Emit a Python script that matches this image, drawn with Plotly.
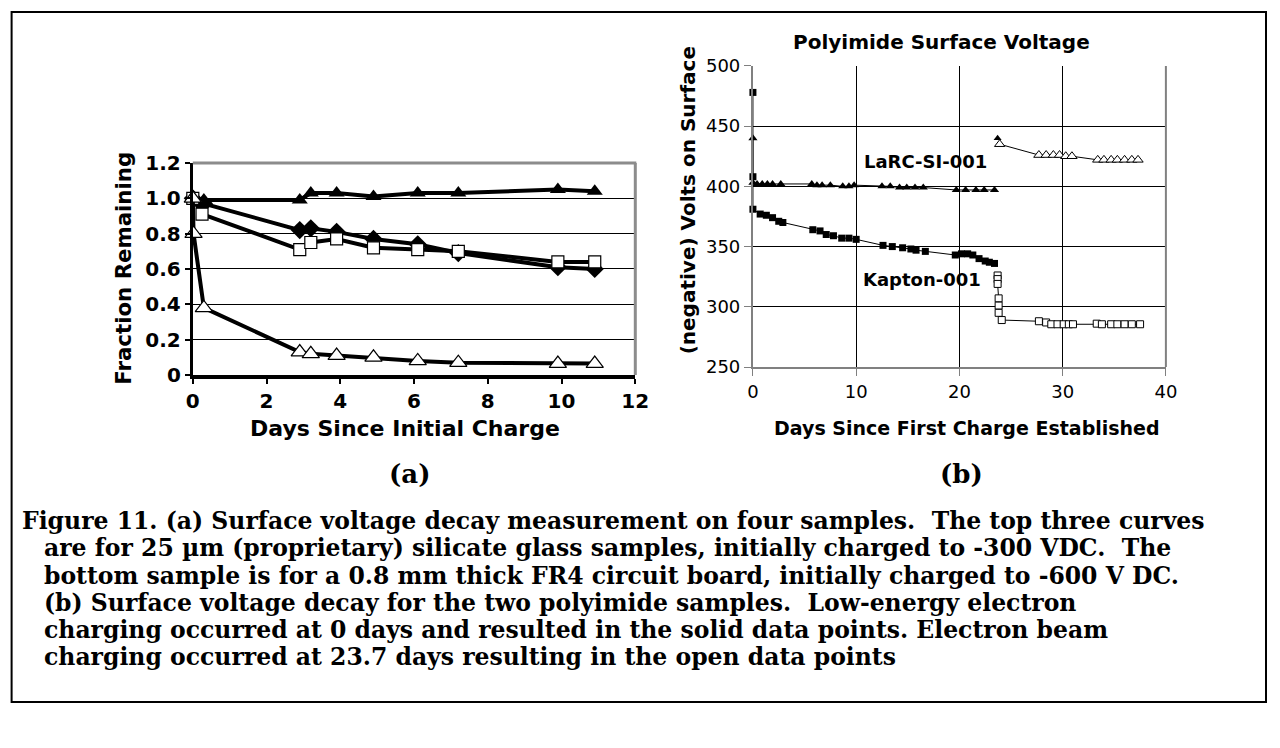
import plotly.graph_objects as go

W, H = 1280, 748

# ---------------- Data: panel (a) ----------------
a_days_tri = [0, 0.3, 2.9, 3.2, 3.9, 4.9, 6.1, 7.2, 9.9, 10.9]
a_tri_solid = [1.0, 0.99, 0.99, 1.03, 1.03, 1.01, 1.03, 1.03, 1.05, 1.04]
a_days_dia = [0, 0.3, 2.9, 3.2, 3.9, 4.9, 6.1, 7.2, 9.9, 10.9]
a_diamond = [1.0, 0.97, 0.82, 0.83, 0.81, 0.77, 0.74, 0.69, 0.61, 0.60]
a_days_sq = [0, 0.25, 2.9, 3.2, 3.9, 4.9, 6.1, 7.2, 9.9, 10.9]
a_square_open = [1.0, 0.91, 0.71, 0.75, 0.77, 0.72, 0.71, 0.70, 0.64, 0.64]
a_days_fr4 = [0, 0.02, 0.3, 2.9, 3.2, 3.9, 4.9, 6.1, 7.2, 9.9, 10.9]
a_tri_open = [1.0, 0.80, 0.38, 0.13, 0.12, 0.11, 0.10, 0.08, 0.07, 0.065, 0.065]

a_xticks = [0, 2, 4, 6, 8, 10, 12]
a_yticks = [0, 0.2, 0.4, 0.6, 0.8, 1.0, 1.2]
a_yticklabels = ["0", "0.2", "0.4", "0.6", "0.8", "1.0", "1.2"]

# ---------------- Data: panel (b) ----------------
kap_solid_days = [0, 0, 0, 0.7, 1.3, 1.9, 2.5, 2.9, 5.8, 6.5, 7.1, 7.8, 8.6, 9.3, 10.0,
                  12.6, 13.5, 14.5, 15.3, 15.8, 16.7, 19.6, 20.2, 20.8, 21.3, 21.9,
                  22.5, 22.9, 23.4]
kap_solid_v = [478, 408, 381, 377, 376, 374, 371, 370, 364, 363, 360, 359, 357, 357, 356,
               351, 350, 349, 348, 347, 346, 343, 344, 344, 343, 340, 338, 337, 336]
kap_open_days = [23.7, 23.7, 23.7, 23.8, 23.8, 23.8, 24.1, 27.7, 28.4, 28.9, 29.5, 30.1,
                 30.6, 31.0, 33.3, 33.8, 34.7, 35.3, 36.0, 36.7, 37.5]
kap_open_v = [326, 323, 319, 307, 301, 295, 289, 288, 287, 285.5, 285.5, 285.5,
              285.5, 285.5, 286, 285.5, 285.5, 285.5, 285.5, 285.5, 285.5]
larc_solid_days = [0, 0, 0.4, 0.9, 1.4, 1.9, 2.7, 5.7, 6.2, 6.7, 7.5, 8.7, 9.3, 9.8,
                   12.5, 13.3, 14.2, 14.9, 15.7, 16.5, 19.7, 20.6, 21.6, 22.4, 23.4]
larc_solid_v = [440, 403, 402, 402, 402, 402, 402, 402, 401, 401, 401, 400, 400, 401,
                400, 400, 399, 399, 399, 399, 397, 397, 397, 397, 397]
larc_mark_days = [23.7]
larc_mark_v = [440]
larc_open_days = [23.9, 27.7, 28.4, 29.1, 29.7, 30.3, 30.9, 33.4, 34.0, 34.7, 35.3,
                  36.0, 36.7, 37.3]
larc_open_v = [435, 426, 426, 426, 426, 425, 425, 422, 422, 422, 422, 422, 422, 422]

b_xticks = [0, 10, 20, 30, 40]
b_yticks = [250, 300, 350, 400, 450, 500]

caption_lines = [
    "Figure 11. (a) Surface voltage decay measurement on four samples.  The top three curves",
    "are for 25 µm (proprietary) silicate glass samples, initially charged to -300 VDC.  The",
    "bottom sample is for a 0.8 mm thick FR4 circuit board, initially charged to -600 V DC.",
    "(b) Surface voltage decay for the two polyimide samples.  Low-energy electron",
    "charging occurred at 0 days and resulted in the solid data points. Electron beam",
    "charging occurred at 23.7 days resulting in the open data points",
]

# screen-pixel -> paper conversion (compensates the page's measured display scaling)
SX, OX, SY, OY = 0.9825, 7.4, 0.9676, 12.1


def px(x):
    return min(max(((x - OX) / SX) / W, 0), 1)


def py(y):
    return min(max(1 - ((y - OY) / SY) / H, 0), 1)


# panel geometry in target pixels
A_L, A_R, A_T, A_B = 193, 635, 163, 375
B_L, B_R, B_T, B_B = 752.5, 1165, 66, 367

fig = go.Figure()

# panel (a) traces
fig.add_trace(go.Scatter(x=a_days_tri, y=a_tri_solid, mode="lines+markers",
                         line=dict(color="black", width=4),
                         marker=dict(symbol="triangle-up", size=14, color="black"),
                         cliponaxis=False, xaxis="x", yaxis="y"))
fig.add_trace(go.Scatter(x=a_days_dia, y=a_diamond, mode="lines+markers",
                         line=dict(color="black", width=4),
                         marker=dict(symbol="diamond", size=14, color="black"),
                         cliponaxis=False, xaxis="x", yaxis="y"))
fig.add_trace(go.Scatter(x=a_days_sq, y=a_square_open, mode="lines+markers",
                         line=dict(color="black", width=4),
                         marker=dict(symbol="square", size=12, color="white",
                                     line=dict(color="black", width=1.2)),
                         cliponaxis=False, xaxis="x", yaxis="y"))
fig.add_trace(go.Scatter(x=a_days_fr4, y=a_tri_open, mode="lines+markers",
                         line=dict(color="black", width=4),
                         marker=dict(symbol="triangle-up", size=15, color="white",
                                     line=dict(color="black", width=1.2)),
                         cliponaxis=False, xaxis="x", yaxis="y"))
# panel (b) traces
fig.add_trace(go.Scatter(x=kap_solid_days, y=kap_solid_v, mode="lines+markers",
                         line=dict(color="black", width=1),
                         marker=dict(symbol="square", size=7, color="black"),
                         cliponaxis=False, xaxis="x2", yaxis="y2"))
fig.add_trace(go.Scatter(x=kap_open_days, y=kap_open_v, mode="lines+markers",
                         line=dict(color="black", width=1),
                         marker=dict(symbol="square", size=7, color="white",
                                     line=dict(color="black", width=1)),
                         cliponaxis=False, xaxis="x2", yaxis="y2"))
fig.add_trace(go.Scatter(x=larc_solid_days, y=larc_solid_v, mode="lines+markers",
                         line=dict(color="black", width=1),
                         marker=dict(symbol="triangle-up", size=8, color="black"),
                         cliponaxis=False, xaxis="x2", yaxis="y2"))
fig.add_trace(go.Scatter(x=larc_mark_days, y=larc_mark_v, mode="markers",
                         marker=dict(symbol="triangle-up", size=7, color="black"),
                         cliponaxis=False, xaxis="x2", yaxis="y2"))
fig.add_trace(go.Scatter(x=larc_open_days, y=larc_open_v, mode="lines+markers",
                         line=dict(color="black", width=1),
                         marker=dict(symbol="triangle-up", size=9, color="white",
                                     line=dict(color="black", width=1)),
                         cliponaxis=False, xaxis="x2", yaxis="y2"))

SANS = "DejaVu Sans, Verdana, sans-serif"
SERIF = "DejaVu Serif, serif"
bold = dict(family=SANS, color="black", weight="bold")
reg = dict(family=SANS, color="black")
serif_bold = dict(family=SERIF, color="black", weight="bold")

fig.update_layout(
    width=W, height=H, margin=dict(l=0, r=0, t=0, b=0),
    paper_bgcolor="white", plot_bgcolor="white", showlegend=False,
    xaxis=dict(domain=[px(A_L), px(A_R)], range=[0, 12], tickvals=a_xticks,
               showgrid=False, zeroline=False, showline=True, linecolor="black",
               linewidth=4, ticks="outside", ticklen=5, tickwidth=2, tickcolor="black",
               tickfont=dict(size=20, **bold), anchor="y", fixedrange=True),
    yaxis=dict(domain=[py(A_B), py(A_T)], range=[0, 1.2], tickvals=a_yticks,
               ticktext=a_yticklabels, showgrid=True, gridcolor="black", gridwidth=1,
               zeroline=False, showline=True, linecolor="black", linewidth=3,
               ticks="outside", ticklen=5, tickwidth=2, tickcolor="black",
               tickfont=dict(size=20, **bold), anchor="x", fixedrange=True),
    xaxis2=dict(domain=[px(B_L), px(B_R)], range=[0, 40], tickvals=b_xticks,
                showgrid=True, gridcolor="black", gridwidth=1, zeroline=False,
                showline=True, linecolor="#808080", linewidth=2, ticks="outside",
                ticklen=7, tickwidth=1, tickcolor="#808080",
                tickfont=dict(size=18, **reg), anchor="y2", fixedrange=True),
    yaxis2=dict(domain=[py(B_B), py(B_T)], range=[250, 500], tickvals=b_yticks,
                showgrid=True, gridcolor="black", gridwidth=1, zeroline=False,
                showline=True, linecolor="#808080", linewidth=2, ticks="outside",
                ticklen=7, tickwidth=1, tickcolor="#808080",
                tickfont=dict(size=18, **reg), anchor="x2", fixedrange=True),
)

shapes = [
    # outer figure box
    dict(type="rect", xref="paper", yref="paper", x0=px(12), x1=px(1266), y0=py(702),
         y1=py(12), line=dict(color="black", width=2), layer="below"),
    # panel (a) grey top/right frame
    dict(type="line", xref="paper", yref="paper", x0=px(A_L), x1=px(A_R + 1),
         y0=py(A_T), y1=py(A_T), line=dict(color="#8c8c8c", width=3), layer="above"),
    dict(type="line", xref="paper", yref="paper", x0=px(A_R), x1=px(A_R),
         y0=py(A_T), y1=py(A_B), line=dict(color="#8c8c8c", width=3), layer="above"),
    # panel (b) right frame
    dict(type="line", xref="paper", yref="paper", x0=px(B_R), x1=px(B_R),
         y0=py(B_T), y1=py(B_B), line=dict(color="#808080", width=2), layer="above"),
]
fig.update_layout(shapes=shapes)

ann = []


def add_text(text, x, y, size, font, xanchor="center", angle=0):
    ann.append(dict(text=text, x=px(x), y=py(y), xref="paper", yref="paper",
                    showarrow=False, xanchor=xanchor, yanchor="middle",
                    textangle=angle, font=dict(size=size, **font)))


add_text("Fraction Remaining", 124, 268, 21.3, bold, angle=-90)
add_text("Days Since Initial Charge", 405, 428, 22, bold)
add_text("Polyimide Surface Voltage", 941, 42, 20, bold)
add_text("(negative) Volts on Surface", 688, 200, 20, bold, angle=-90)
add_text("Days Since First Charge Established", 966, 428, 19, bold)
add_text("LaRC-SI-001", 925, 161.5, 18, bold)
add_text("Kapton-001", 921, 279.5, 18, bold)
add_text("(a)", 409, 474, 26, serif_bold)
add_text("(b)", 961, 474, 26, serif_bold)
cap_y = [521, 548, 576, 603, 630, 657]
for i, line in enumerate(caption_lines):
    add_text(line, 20 if i == 0 else 42, cap_y[i], 23.5, serif_bold, xanchor="left")

fig.update_layout(annotations=ann)
fig.write_html("out.html", config={"displayModeBar": False},
               post_script="document.body.style.margin='0';"
                           "document.body.style.overflow='hidden';")
